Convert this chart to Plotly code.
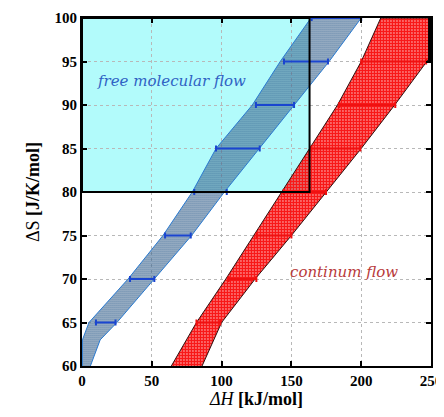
import plotly.graph_objects as go

# ---- data ----
# blue band (free molecular flow) envelope
blue_y = [60, 63, 65, 70, 75, 80, 85, 90, 95, 100]
blue_left = [0.3, 0.3, 5, 33, 58, 79, 96, 122, 142, 164]
blue_right = [6, 13, 25, 52, 78.5, 102, 127, 152, 177, 200]

# blue error bars (left / right ends) at each ΔS
blue_bar_y = [65, 70, 75, 80, 85, 90, 95, 100]
blue_bar_lo = [10, 34.4, 59.5, 80.4, 96, 124.6, 144.7, 164.5]
blue_bar_hi = [24, 51.8, 77.9, 103.7, 127.3, 151.9, 176.2, 200]

# red band (continuum flow) envelope
red_y = [60, 65, 70, 75, 80, 85, 90, 95, 100]
red_left = [64, 82, 103, 123, 143, 163, 183, 200, 214]
red_right = [86, 100, 124, 150, 175, 200, 224, 247, 270]

# red error bars
red_bar_y = [65, 70, 75, 80, 85, 90, 95]
red_bar_lo = [82, 105, 125, 144.5, 164.3, 184.3, 200]
red_bar_hi = [99, 124.9, 150, 174.8, 199.4, 224.4, 246.5]

# highlighted region (free molecular flow box)
box_x = [0, 163]
box_y = [80, 100]
# small region box at top right
cbox_x = [248.6, 250]
cbox_y = [95, 100]

x_ticks = [0, 50, 100, 150, 200, 250]
y_ticks = [60, 65, 70, 75, 80, 85, 90, 95, 100]

fig = go.Figure()

# bands
fig.add_trace(go.Scatter(
    x=blue_left + blue_right[::-1], y=blue_y + blue_y[::-1],
    fill="toself", mode="lines",
    line=dict(color="#2a7ad0", width=1),
    fillcolor="rgba(0,0,0,0)",
    fillpattern=dict(shape=".", fgcolor="#2a5a8a", fgopacity=0.8, size=2, solidity=0.6,
                     fillmode="replace", bgcolor="rgba(90,120,150,0.3)"),
    hoverinfo="skip", showlegend=False))

fig.add_trace(go.Scatter(
    x=red_left + red_right[::-1], y=red_y + red_y[::-1],
    fill="toself", mode="lines",
    line=dict(color="#301010", width=1),
    fillcolor="rgba(0,0,0,0)",
    fillpattern=dict(shape=".", fgcolor="#f81818", size=3, solidity=0.8,
                     fillmode="replace", bgcolor="rgba(0,0,0,0)"),
    hoverinfo="skip", showlegend=False))

# error bars
bc = [(a + b) / 2 for a, b in zip(blue_bar_lo, blue_bar_hi)]
fig.add_trace(go.Scatter(
    x=bc, y=blue_bar_y, mode="markers", marker=dict(size=1, opacity=0),
    error_x=dict(type="data", symmetric=False,
                 array=[h - c for h, c in zip(blue_bar_hi, bc)],
                 arrayminus=[c - l for l, c in zip(blue_bar_lo, bc)],
                 color="#1a45d0", thickness=2, width=3),
    hoverinfo="skip", showlegend=False))

rc = [(a + b) / 2 for a, b in zip(red_bar_lo, red_bar_hi)]
fig.add_trace(go.Scatter(
    x=rc, y=red_bar_y, mode="markers", marker=dict(size=1, opacity=0),
    error_x=dict(type="data", symmetric=False,
                 array=[h - c for h, c in zip(red_bar_hi, rc)],
                 arrayminus=[c - l for l, c in zip(red_bar_lo, rc)],
                 color="#f01010", thickness=2, width=3),
    hoverinfo="skip", showlegend=False))

# shapes: cyan region (fill below grid) + border above
fig.add_shape(type="rect", xref="x", yref="y",
              x0=box_x[0], x1=box_x[1], y0=box_y[0], y1=box_y[1],
              fillcolor="#b2fbfb", line=dict(width=0), layer="below")
fig.add_shape(type="rect", xref="x", yref="y",
              x0=box_x[0], x1=box_x[1], y0=box_y[0], y1=box_y[1],
              line=dict(color="black", width=2), layer="above")
fig.add_shape(type="rect", xref="x", yref="y",
              x0=cbox_x[0], x1=cbox_x[1], y0=cbox_y[0], y1=cbox_y[1],
              line=dict(color="black", width=2), layer="above")

# labels
fig.add_annotation(x=64, y=92.8, text="free molecular flow", showarrow=False,
                   font=dict(family="DejaVu Serif", size=15, color="#2f62c4", style="italic"))
fig.add_annotation(x=188, y=70.8, text="continum flow", showarrow=False,
                   font=dict(family="DejaVu Serif", size=15, color="#b83a3a", style="italic"))

tickfont = dict(family="Liberation Serif", size=15, color="black", weight="bold")
fig.update_xaxes(range=[0, 250], tickvals=x_ticks, showgrid=True, automargin=False,
                 ticklabeloverflow="allow",
                 gridcolor="#b8b8b8", griddash="dot", gridwidth=1,
                 showline=True, linecolor="black", linewidth=2, mirror="allticks",
                 ticks="inside", ticklen=5, tickwidth=1.5, tickcolor="black",
                 tickfont=tickfont, zeroline=False,
                 title=dict(text="<i>ΔH</i> <b>[kJ/mol]</b>", standoff=8,
                            font=dict(family="Liberation Serif", size=18, color="black")))
fig.update_yaxes(range=[60, 100], tickvals=y_ticks, showgrid=True, automargin=False,
                 ticklabeloverflow="allow",
                 gridcolor="#b8b8b8", griddash="dot", gridwidth=1,
                 showline=True, linecolor="black", linewidth=2, mirror="allticks",
                 ticks="inside", ticklen=5, tickwidth=1.5, tickcolor="black",
                 tickfont=tickfont, zeroline=False,
                 title=dict(text="ΔS <b>[J/K/mol]</b>", standoff=10,
                            font=dict(family="Liberation Serif", size=18, color="black")))

# the page body adds an 8px margin all round, so the figure is sized to fit the window
fig.update_layout(width=436, height=401,
                  margin=dict(l=74, r=13, t=10, b=43),
                  plot_bgcolor="white", paper_bgcolor="white")

fig.write_html("out.html")
